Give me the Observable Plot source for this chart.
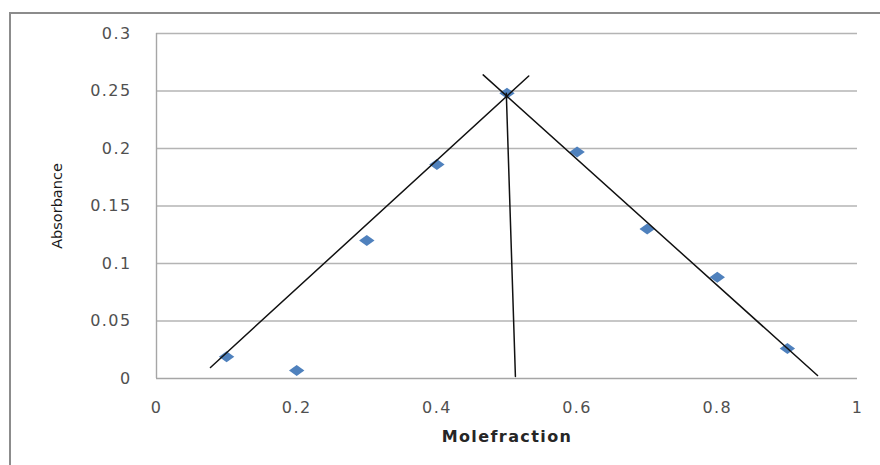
<!DOCTYPE html>
<html>
<head>
<meta charset="utf-8">
<script src="https://cdn.jsdelivr.net/npm/d3@7"></script>
<script src="https://cdn.jsdelivr.net/npm/@observablehq/plot@0.6"></script>
<style>
  html, body { margin: 0; padding: 0; background: #fff; overflow: hidden; }
  #wrap { position: relative; width: 880px; height: 465px; }
  #frame {
    position: absolute; left: 9px; top: 12px; width: 900px; height: 500px;
    border-left: 2px solid #8c8c8c; border-top: 2px solid #8c8c8c;
    pointer-events: none;
  }
  #chart svg text { letter-spacing: 1.4px; }
</style>
</head>
<body>
<div id="wrap">
  <div id="chart"></div>
  <div id="frame"></div>
</div>
<script>
// Job's plot: absorbance against mole fraction
const moleFraction = [0.1, 0.2, 0.3, 0.4, 0.5, 0.6, 0.7, 0.8, 0.9];
const absorbance = [0.019, 0.007, 0.120, 0.186, 0.248, 0.197, 0.130, 0.088, 0.026];

const yTicks = [0, 0.05, 0.1, 0.15, 0.2, 0.25, 0.3];
const yTickLabels = ["0", "0.05", "0.1", "0.15", "0.2", "0.25", "0.3"];
const xTicks = [0, 0.2, 0.4, 0.6, 0.8, 1];
const xTickLabels = ["0", "0.2", "0.4", "0.6", "0.8", "1"];

const xTitle = "Molefraction";
const yTitle = "Absorbance";

// Hand-drawn construction lines (endpoints in data units)
const risingX = [0.077, 0.531];
const risingY = [0.0096, 0.263];
const fallingX = [0.466, 0.943];
const fallingY = [0.264, 0.0026];
const dropX = [0.499, 0.512];
const dropY = [0.248, 0.0017];

const points = moleFraction.map((x, i) => ({x, y: absorbance[i]}));
const toPts = (xs, ys) => xs.map((x, i) => ({x, y: ys[i]}));

// Wide, flat diamond marker
const wideDiamond = {
  draw(context, size) {
    const s = Math.sqrt(size / Math.PI);
    const hw = s * 1.4, hh = s * 1.0;
    context.moveTo(0, -hh);
    context.lineTo(hw, 0);
    context.lineTo(0, hh);
    context.lineTo(-hw, 0);
    context.closePath();
  }
};

const chart = Plot.plot({
  width: 880,
  height: 465,
  marginLeft: 156,
  marginRight: 23,
  marginTop: 33,
  marginBottom: 87,
  style: {fontFamily: "DejaVu Sans", fontSize: "16px", color: "#505050", background: "transparent"},
  x: {domain: [0, 1]},
  y: {domain: [0, 0.3]},
  marks: [
    Plot.ruleY(yTicks.slice(1), {x1: 0, x2: 1, stroke: "#b4b4b4", strokeWidth: 1.3}),
    Plot.ruleY([0], {x1: 0, x2: 1, stroke: "#a6a6a6", strokeWidth: 1.4}),
    Plot.ruleX([0], {y1: 0, y2: 0.3, stroke: "#a6a6a6", strokeWidth: 1.4}),
    Plot.axisY({
      ticks: yTicks, tickSize: 0, tickPadding: 25, label: null,
      tickFormat: d => yTickLabels[yTicks.indexOf(d)]
    }),
    Plot.axisX({
      ticks: xTicks, tickSize: 0, tickPadding: 23, label: null,
      tickFormat: d => xTickLabels[xTicks.indexOf(d)]
    }),
    Plot.dot(points, {x: "x", y: "y", symbol: wideDiamond, r: 5.5, fill: "#4f81bd", stroke: "none"}),
    Plot.line(toPts(risingX, risingY), {x: "x", y: "y", stroke: "#111", strokeWidth: 1.5}),
    Plot.line(toPts(fallingX, fallingY), {x: "x", y: "y", stroke: "#111", strokeWidth: 1.5}),
    Plot.line(toPts(dropX, dropY), {x: "x", y: "y", stroke: "#111", strokeWidth: 1.5}),
    Plot.text([xTitle], {frameAnchor: "bottom", dy: 63, fontWeight: "bold", fontSize: 16, fill: "#262626"}),
    Plot.text([yTitle], {frameAnchor: "left", textAnchor: "middle", dx: -99, rotate: -90, fontSize: 14.5, fill: "#1a1a1a"})
  ]
});

// The rotated axis title uses normal spacing
d3.select(chart).selectAll("text")
  .filter(function () { return this.textContent === yTitle; })
  .style("letter-spacing", "0");

document.getElementById("chart").appendChild(chart);
</script>
</body>
</html>
